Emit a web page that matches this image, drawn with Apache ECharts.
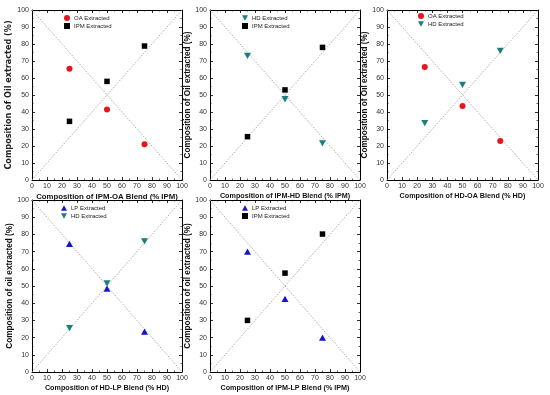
<!DOCTYPE html>
<html><head><meta charset="utf-8">
<script src="https://cdn.jsdelivr.net/npm/echarts@6/dist/echarts.min.js"></script>
<style>html,body{margin:0;padding:0;background:#fff}#c{width:550px;height:395px}</style>
</head><body><div id="c"></div>
<script>
// ---- data ----
const blendX = [25, 50, 75];
const p1_OA  = [65.5, 41.5, 21];
const p1_IPM = [34.5, 58, 78.8];
const p2_HD  = [73, 47.5, 21.5];
const p2_IPM = [25.5, 53, 78];
const p3_OA  = [66.5, 43.5, 23];
const p3_HD  = [33.5, 56, 76];
const p4_LP  = [74.5, 48.5, 23.5];
const p4_HD  = [25.5, 51.5, 76];
const p5_LP  = [70, 42.5, 20];
const p5_IPM = [30, 57.5, 80.2];
const diagUp = [[0, 0], [100, 100]];
const diagDown = [[0, 100], [100, 0]];
const xTitles = ['Composition of IPM-OA Blend (% IPM)', 'Composition of IPM-HD Blend (% IPM)',
  'Composition of HD-OA Blend (% HD)', 'Composition of HD-LP Blend (% HD)', 'Composition of IPM-LP Blend (% IPM)'];
const yTitles = ['Composition of Oil extracted (%)', 'Composition of Oil extracted (%)',
  'Composition of Oil extracted (%)', 'Composition of oil extracted (%)', 'Composition of oil extracted (%)'];

const DOWN_TRI = 'path://M0,0 L10,0 L5,9 Z';
const UP_TRI = 'path://M5,0 L10,9 L0,9 Z';
const STY = {
  OA:  {name: 'OA Extracted',  symbol: 'circle', color: '#e8141c', size: 6},
  IPM: {name: 'IPM Extracted', symbol: 'rect', color: '#000000', size: 5.5},
  HD:  {name: 'HD Extracted',  symbol: DOWN_TRI, color: '#17807c', size: [7, 6.3]},
  LP:  {name: 'LP Extracted',  symbol: UP_TRI, color: '#1414c8', size: [7, 6.3]}
};
const panels = [
  {s: [['OA', p1_OA], ['IPM', p1_IPM]]},
  {s: [['HD', p2_HD], ['IPM', p2_IPM]]},
  {s: [['OA', p3_OA], ['HD', p3_HD]]},
  {s: [['LP', p4_LP], ['HD', p4_HD]]},
  {s: [['LP', p5_LP], ['IPM', p5_IPM]]}
];
const grids = [
  {left: 32, top: 10, width: 150, height: 170},
  {left: 210, top: 10, width: 150, height: 170},
  {left: 387, top: 10, width: 151, height: 170},
  {left: 32, top: 200, width: 150, height: 172},
  {left: 210, top: 200, width: 150, height: 172}
];
const legendPos = [
  {left: 64, top: 15}, {left: 242, top: 15}, {left: 418, top: 13},
  {left: 61, top: 205}, {left: 242, top: 205}
];

const FONT = 'Liberation Sans, Arial, sans-serif';
const xAxis = [], yAxis = [], series = [], legend = [];
function axisBase(gi, showLabels) {
  return {
    gridIndex: gi, type: 'value', min: 0, max: 100, interval: 10,
    axisLine: {show: true, onZero: false, lineStyle: {color: '#000', width: 1}},
    axisTick: {show: true, inside: true, length: 3, lineStyle: {color: '#000', width: 0.8}},
    minorTick: {show: true, splitNumber: 2, length: 1.5, lineStyle: {color: '#000', width: 0.6}},
    splitLine: {show: false},
    axisLabel: {show: showLabels, fontSize: 7, color: '#333', fontFamily: FONT, margin: 3}
  };
}
panels.forEach((p, i) => {
  const bx = axisBase(i, true);
  Object.assign(bx, {position: 'bottom', name: xTitles[i], nameLocation: 'middle', nameGap: 13,
    nameTextStyle: {fontSize: i === 0 ? 7.8 : 7.2, fontWeight: 'bold', color: '#111', fontFamily: FONT}});
  xAxis.push(bx);
  const tx = axisBase(i, false); tx.position = 'top'; xAxis.push(tx);
  const ly = axisBase(i, true);
  Object.assign(ly, {position: 'left', name: yTitles[i], nameLocation: 'middle', nameGap: i === 0 ? 16 : 18,
    nameTextStyle: i === 0 ? {fontSize: 9, fontWeight: 'bold', color: '#222', fontFamily: 'DejaVu Sans Condensed, ' + FONT}
                           : {fontSize: 8.2, fontWeight: 'bold', color: '#111', fontFamily: FONT}});
  yAxis.push(ly);
  const ry = axisBase(i, false); ry.position = 'right'; yAxis.push(ry);
  const xi = i * 2, yi = i * 2;
  [diagUp, diagDown].forEach(d => series.push({
    type: 'line', xAxisIndex: xi, yAxisIndex: yi, data: d, symbol: 'none', silent: true,
    lineStyle: {color: '#999', width: 0.8, type: [1.5, 1.5]}, z: 1
  }));
  const names = [];
  p.s.forEach(([k, vals]) => {
    const st = STY[k];
    names.push({name: st.name, icon: st.symbol === 'rect' ? 'rect' : st.symbol});
    series.push({
      type: 'scatter', name: st.name, xAxisIndex: xi, yAxisIndex: yi,
      data: blendX.map((x, j) => [x, vals[j]]),
      symbol: st.symbol, symbolSize: st.size,
      itemStyle: {color: st.color, opacity: 1}, z: 3
    });
  });
  legend.push({
    data: names, orient: 'vertical', left: legendPos[i].left, top: legendPos[i].top,
    itemWidth: 6, itemHeight: 6, itemGap: 2, padding: 0, selectedMode: false,
    textStyle: {fontSize: 6, color: '#222', fontFamily: FONT, padding: [0, 0, 0, -1]}
  });
});

const chart = echarts.init(document.getElementById('c'), null, {renderer: 'canvas'});
chart.setOption({
  animation: false, backgroundColor: '#fff',
  grid: grids.map(g => Object.assign({containLabel: false}, g)),
  xAxis, yAxis, series, legend
});
</script></body></html>
